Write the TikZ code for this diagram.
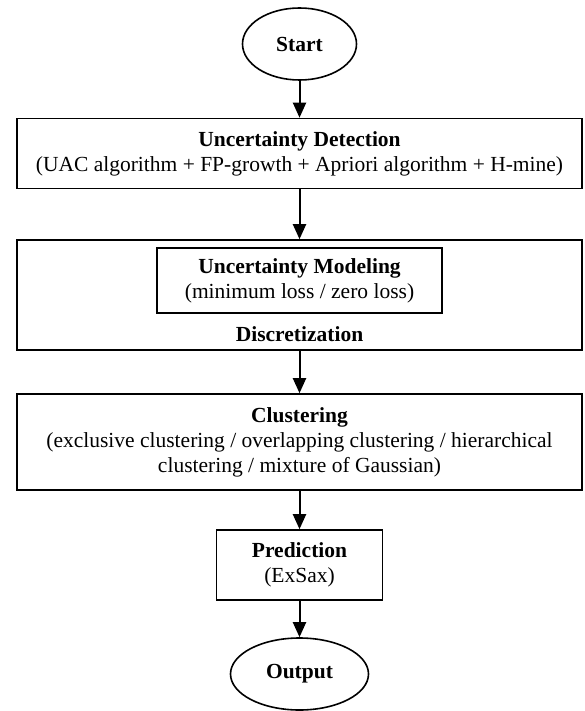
\documentclass[tikz,border=0pt]{standalone}
\usepackage{fontspec}
\setmainfont{Liberation Serif}
\usetikzlibrary{arrows.meta,shapes.geometric}
\begin{document}
\begin{tikzpicture}[x=1pt,y=-1pt,
  txt/.style={font=\fontsize{21.5}{25}\selectfont},
  box/.style={txt,draw,line width=1.6pt,rectangle,inner sep=0pt,align=center},
  oval/.style={draw,line width=1.6pt,ellipse,inner sep=0pt,font=\fontsize{21.5}{25}\selectfont\bfseries},
  flow/.style={line width=2pt,-{Triangle[length=15pt,width=13pt]}},
  lbl/.style={align=center,inner sep=0pt,font=\fontsize{21.5}{25}\selectfont\bfseries}]
\useasboundingbox (0,0) rectangle (584,711);
\node[oval,minimum width=114pt,minimum height=72pt] (start) at (299.5,44) {Start};
\node[box,minimum width=565pt,minimum height=70pt] (det) at (299.5,153.5)
  {\textbf{Uncertainty Detection}\\(UAC algorithm + FP-growth + Apriori algorithm + H-mine)};
\node[box,minimum width=565pt,minimum height=110pt] (disc) at (299.5,295) {};
\node[box,minimum width=285pt,minimum height=65pt] (model) at (299.5,280.5)
  {\textbf{Uncertainty Modeling}\\(minimum loss / zero loss)};
\node[lbl] (disclbl) at (299.5,334) {Discretization};
\node[box,minimum width=565pt,minimum height=96pt] (clus) at (299.5,442)
  {\textbf{Clustering}\\(exclusive clustering / overlapping clustering / hierarchical\\clustering / mixture of Gaussian)};
\node[box,minimum width=166pt,minimum height=70pt] (pred) at (299.5,565)
  {\textbf{Prediction}\\(ExSax)};
\node[oval,minimum width=138pt,minimum height=72pt] (out) at (299.5,674) {Output};
\draw[flow] (start) -- (det);
\draw[flow] (det) -- (disc);
\draw[flow] (disc) -- (clus);
\draw[flow] (clus) -- (pred);
\draw[flow] (pred) -- (out);
\end{tikzpicture}
\end{document}
